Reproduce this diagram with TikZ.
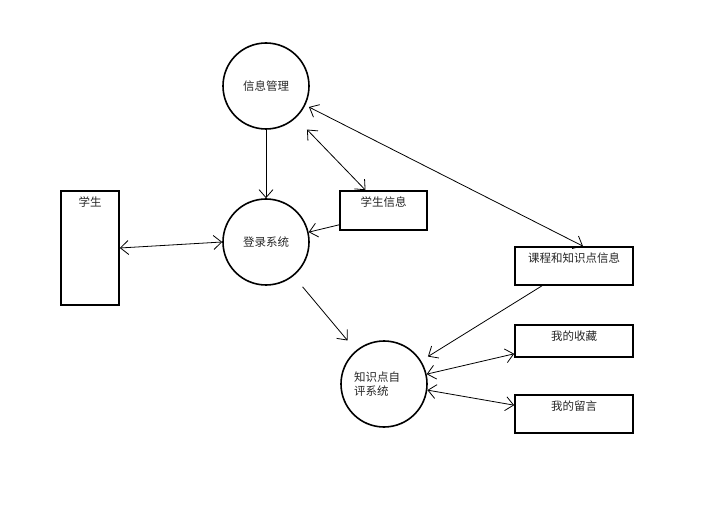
\documentclass[tikz,border=0pt]{standalone}
\usepackage{fontspec}
\newfontfamily\cjk{Noto Sans CJK SC}
\usetikzlibrary{arrows.meta}
\tikzset{
  proc/.style={draw, circle, line width=1.6pt, minimum size=86pt, inner sep=0pt},
  store/.style={draw, rectangle, line width=1.6pt, inner sep=0pt},
  flow/.style={line width=0.8pt, -{Straight Barb[length=8pt,width=14pt]}},
  both/.style={line width=0.8pt, {Straight Barb[length=8pt,width=14pt]}-{Straight Barb[length=8pt,width=14pt]}},
}
\begin{document}
\begin{tikzpicture}[x=1pt, y=-1pt, font=\cjk\fontsize{11.5}{14}\selectfont, text=black!85]
\useasboundingbox (0,0) rectangle (704,521);
% processes
\node [proc] (info) at (266,86) {信息管理};
\node [proc] (login) at (266,242) {登录系统};
\node [proc, align=left, text width=60pt] (eval) at (384,384) {知识点自\\评系统};

% data stores
\node [store, minimum width=58pt, minimum height=114pt,
  label={[anchor=north, yshift=-3pt]north:学生}] (stu) at (90,248) {};
\node [store, minimum width=87pt, minimum height=39pt,
  label={[anchor=north, yshift=-3pt]north:学生信息}] (stuinfo) at (383.5,210.5) {};
\node [store, minimum width=118pt, minimum height=38pt,
  label={[anchor=north, yshift=-3pt]north:课程和知识点信息}] (course) at (574,266) {};
\node [store, minimum width=118pt, minimum height=32pt,
  label={[anchor=north, yshift=-3pt]north:我的收藏}] (fav) at (574,341) {};
\node [store, minimum width=118pt, minimum height=38pt,
  label={[anchor=north, yshift=-3pt]north:我的留言}] (msg) at (574,414) {};

% flows
\draw [flow] (info.south) -- (login.north);
\draw [both] (stu.east) -- (login.west);
\draw [flow] ([yshift=6pt]stuinfo.south west) -- (login.13);
\draw [both, shorten <=16pt] (info.-47) -- ([xshift=-18pt]stuinfo.north);
\draw [both, shorten <=4pt] (info.-26) -- ([xshift=9pt]course.north);
\draw [flow, shorten <=14pt, shorten >=13pt] (login.-51) -- (eval.130);
\draw [flow, shorten >=8pt] ([xshift=-32pt]course.south) -- (eval.32);
\draw [both] (eval.13) -- ([yshift=4pt]fav.south west);
\draw [both] (eval.-8) -- ([yshift=-11pt]msg.north west);
\end{tikzpicture}
\end{document}
